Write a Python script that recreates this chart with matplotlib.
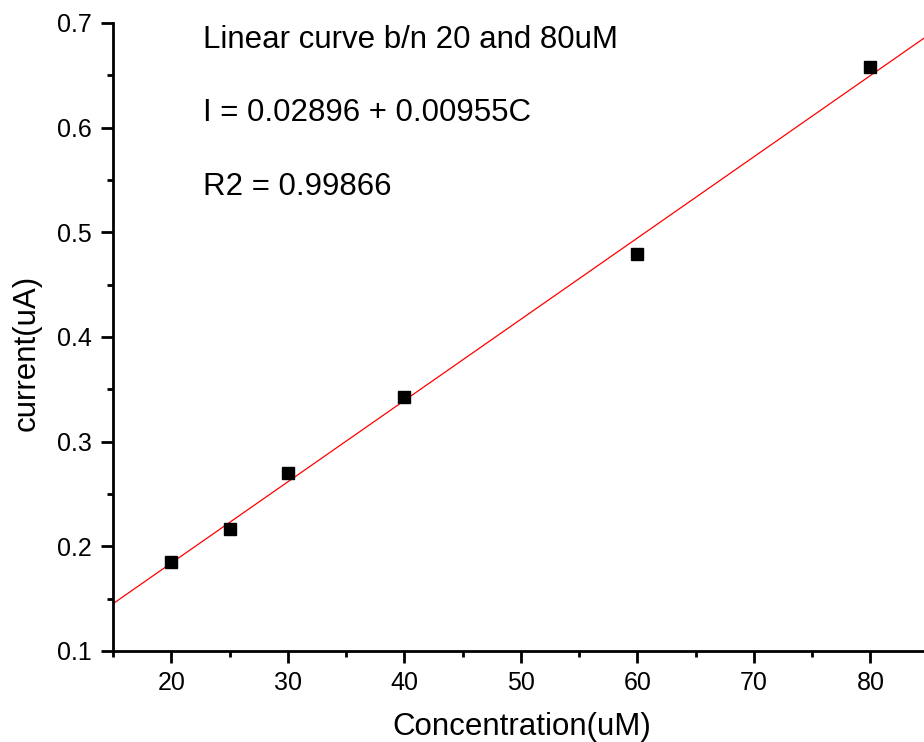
import numpy as np
import matplotlib.pyplot as plt
from matplotlib.ticker import MultipleLocator

plt.rcParams['font.family'] = ['Liberation Sans', 'DejaVu Sans']

conc = np.array([20, 25, 30, 40, 60, 80])
current = np.array([0.185, 0.217, 0.270, 0.343, 0.479, 0.658])
notes = ["Linear curve b/n 20 and 80uM", "I = 0.02896 + 0.00955C", "R2 = 0.99866"]

# linear fit through the points
slope, icpt = np.polyfit(conc, current, 1)
xfit = np.array([15, 85])

fig = plt.figure(figsize=(9.24, 7.42), dpi=100)
ax = fig.add_axes([113 / 924, 91 / 742, 811 / 924, 628 / 742])

ax.plot(xfit, icpt + slope * xfit, color='red', lw=0.9)
ax.plot(conc, current, 's', color='black', ms=9, zorder=3)

ax.set_xlim(15, 84.6)
ax.set_ylim(0.1, 0.7)
ax.xaxis.set_major_locator(MultipleLocator(10))
ax.xaxis.set_minor_locator(MultipleLocator(5))
ax.yaxis.set_major_locator(MultipleLocator(0.1))
ax.yaxis.set_minor_locator(MultipleLocator(0.05))
ax.tick_params(axis='x', which='major', direction='out', length=8.5, width=2, labelsize=18, pad=6)
ax.tick_params(axis='y', which='major', direction='out', length=8.5, width=2, labelsize=18, pad=7)
ax.tick_params(which='minor', direction='out', length=4.5, width=2)
ax.spines['top'].set_visible(False)
ax.spines['right'].set_visible(False)
for s in ['left', 'bottom']:
    ax.spines[s].set_linewidth(2)

ax.set_xlabel("Concentration(uM)", fontsize=22.5)
ax.set_ylabel("current(uA)", fontsize=22.5)
ax.xaxis.set_label_coords(0.504, -0.097)
ax.yaxis.set_label_coords(-0.088, 0.4745)

for i, t in enumerate(notes):
    ax.text(22.7, 0.684 - i * 0.0703, t, fontsize=22.5, va='center')

fig.savefig("out.png", dpi=100)
